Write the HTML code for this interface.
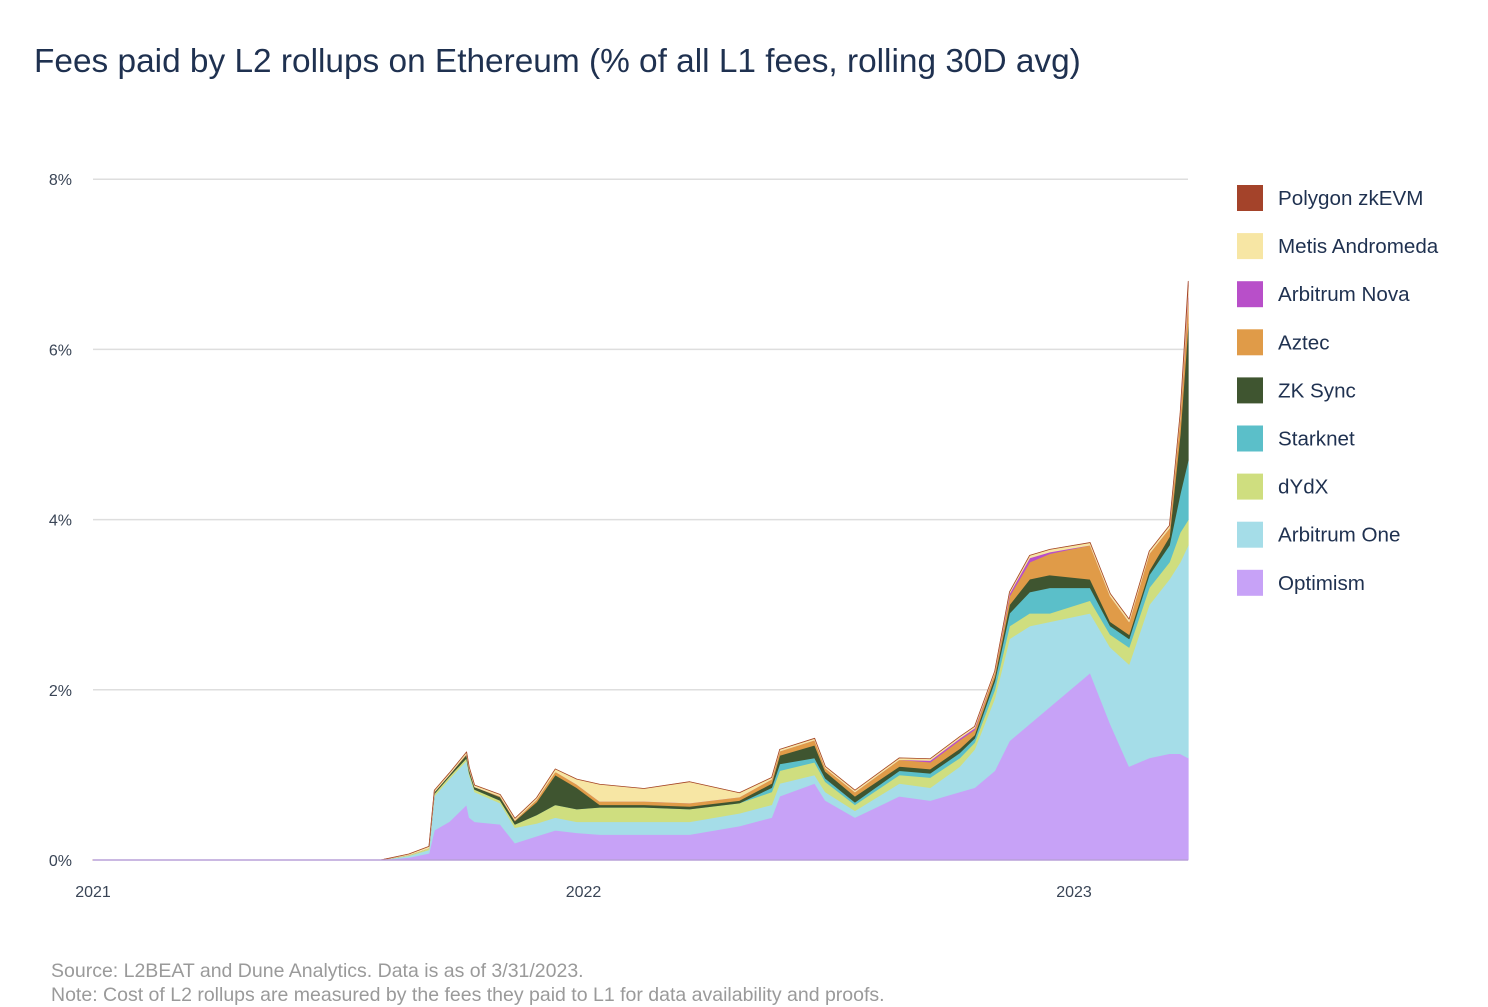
<!DOCTYPE html>
<html><head><meta charset="utf-8"><style>
body{margin:0;background:#fff;width:1488px;height:992px;overflow:hidden;font-family:"Liberation Sans",sans-serif;}
#title{position:absolute;left:34px;top:43px;font-size:33.4px;color:#1f3150;white-space:nowrap;}
#src{position:absolute;left:51px;top:960px;font-size:19.5px;color:#9a9a9a;white-space:nowrap;}
#src2{position:absolute;left:51px;top:984px;font-size:19.5px;color:#9a9a9a;white-space:nowrap;}
svg{position:absolute;left:0;top:0;}
</style></head><body>
<div id="title">Fees paid by L2 rollups on Ethereum (% of all L1 fees, rolling 30D avg)</div>
<svg id="chart" width="1488" height="992"></svg>
<div id="src">Source: L2BEAT and Dune Analytics. Data is as of 3/31/2023.</div>
<div id="src2">Note: Cost of L2 rollups are measured by the fees they paid to L1 for data availability and proofs.</div>
<script>
// days since 2021-01-01
const days=[0,214,235,250,254,265,278,280,284,303,314,330,344,360,377,410,444,481,505,511,537,545,567,600,623,645,656,671,682,697,712,742,757,771,786,801,809,815];
const optimism=[0,0,.03,.08,.35,.45,.65,.5,.45,.42,.2,.28,.35,.32,.3,.3,.3,.4,.5,.75,.9,.7,.5,.75,.7,.8,.85,1.05,1.4,1.6,1.8,2.2,1.6,1.1,1.2,1.25,1.25,1.2];
const arbitrumOne=[0,0,.02,.04,.4,.5,.52,.5,.35,.25,.18,.15,.15,.13,.15,.15,.15,.15,.15,.15,.1,.1,.08,.15,.15,.3,.45,.85,1.2,1.15,1.0,.7,.9,1.2,1.8,2.05,2.25,2.5];
const dydx=[0,0,.01,.02,.03,.03,.03,.03,.03,.03,.04,.1,.15,.15,.17,.17,.15,.12,.15,.15,.15,.12,.07,.1,.12,.1,.08,.1,.15,.15,.1,.15,.15,.2,.2,.2,.35,.3];
const starknet=[0,0,0,0,0,0,0,0,0,0,0,0,0,0,0,0,0,0,.05,.08,.05,.04,.03,.05,.05,.06,.05,.1,.15,.25,.3,.15,.1,.1,.15,.2,.45,.7];
const zksync=[0,0,0,0,.02,.02,.04,.03,.03,.04,.04,.15,.35,.25,.03,.03,.03,.03,.05,.1,.15,.08,.07,.05,.05,.05,.04,.05,.1,.15,.15,.1,.05,.05,.05,.1,.7,1.6];
const aztec=[0,0,0,0,0,0,.01,.01,0,.01,.01,.03,.04,.04,.04,.04,.04,.04,.05,.05,.06,.04,.05,.08,.08,.1,.06,.05,.1,.2,.25,.4,.3,.15,.2,.1,.2,.3];
const arbitrumNova=[0,0,0,0,0,0,0,0,0,0,0,0,0,0,0,0,0,0,0,0,0,0,0,0,.02,.02,.02,0,.03,.05,.02,0,0,0,0,0,0,.05];
const metis=[0,0,.01,.02,.02,.02,.02,.02,.02,.02,.02,.02,.03,.06,.2,.15,.25,.05,.02,.02,.02,.02,.02,.02,.02,.02,.02,.02,.02,.03,.03,.03,.03,.03,.03,.03,.05,.1];
const polygon=[0,0,0,0,0,0,0,0,0,0,0,0,0,0,0,0,0,0,0,0,0,0,0,0,0,0,0,0,0,0,0,0,0,0,0,0,0,.05];
const seriesNames=["Optimism","Arbitrum One","dYdX","Starknet","ZK Sync","Aztec","Arbitrum Nova","Metis Andromeda","Polygon zkEVM"];
const seriesData=[optimism,arbitrumOne,dydx,starknet,zksync,aztec,arbitrumNova,metis,polygon];
const colors=["#c7a2f7","#a5dde8","#cfde7f","#5bbfc9","#3f5530","#e09b48","#b84fc9","#f7e6a4","#a4432a"];
const yTicks=[0,2,4,6,8];
const xTicks=[{d:0,l:"2021"},{d:365,l:"2022"},{d:730,l:"2023"}];

const NS="http://www.w3.org/2000/svg";
const svg=document.getElementById('chart');
const X=d=>93+d*(490.5/365);
const Y=v=>860-v*85.1;
function mk(t,a){const e=document.createElementNS(NS,t);for(const k in a)e.setAttribute(k,a[k]);svg.appendChild(e);return e;}
yTicks.forEach(v=>{
  if(v>0){const g=mk('line',{x1:93,x2:1188,y1:Y(v),y2:Y(v),stroke:'#dedede','stroke-width':1.5});
  
  }
  const t=mk('text',{x:72,y:Y(v)+6,'text-anchor':'end','font-size':16,fill:'#3a4556','font-family':'Liberation Sans'});
  t.textContent=v+'%';
  
  
});
xTicks.forEach(o=>{
  const t=mk('text',{x:X(o.d),y:897,'text-anchor':'middle','font-size':16,fill:'#3a4556','font-family':'Liberation Sans'});
  t.textContent=o.l;
  
  
});
let base=days.map(()=>0);
seriesData.forEach((s,i)=>{
  const top=base.map((b,j)=>b+s[j]);
  let p='M'+days.map((d,j)=>X(d)+','+Y(top[j])).join('L');
  for(let j=days.length-1;j>=0;j--)p+='L'+X(days[j])+','+Y(base[j]);
  p+='Z';
  const e=mk('path',{d:p,fill:colors[i],stroke:colors[i],'stroke-width':0.8,'stroke-linejoin':'round'});
  
  
  base=top;
});
const ax=mk('line',{x1:93,x2:1188,y1:860,y2:860,stroke:'#b9a0d8','stroke-width':1.5});


for(let k=0;k<9;k++){
  const i=8-k, y=185+k*48.1;
  const r=mk('rect',{x:1237,y:y,width:26,height:26,fill:colors[i]});
  
  
  const t=mk('text',{x:1278,y:y+20,'font-size':20.6,fill:'#1f3150','font-family':'Liberation Sans'});
  t.textContent=seriesNames[i];
  
  
}
</script>
</body></html>
